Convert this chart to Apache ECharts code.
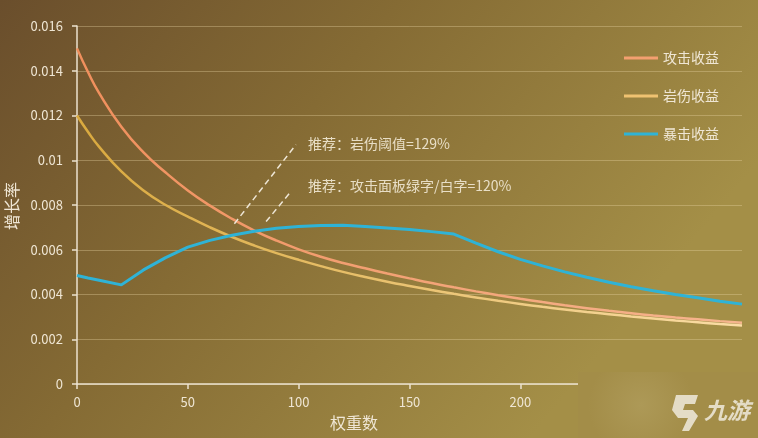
<!DOCTYPE html>
<html>
<head>
<meta charset="utf-8">
<script src="https://cdn.jsdelivr.net/npm/echarts@6/dist/echarts.min.js"></script>
<style>
html,body{margin:0;padding:0;width:758px;height:438px;overflow:hidden;}
#c{width:758px;height:438px;}
</style>
</head>
<body>
<div id="c"></div>
<script>
// ---- data ----
const seriesNames = ['攻击收益', '岩伤收益', '暴击收益'];
const weights = [0,5,10,20,30,40,50,60,70,80,90,100,110,120,130,140,150,160,170,180,190,200,210,220,230,240,250,260,270,280,290,300];
const attackGain = [0.01500,0.01393,0.01300,0.01150,0.01035,0.00945,0.00865,0.00797,0.00738,0.00686,0.00641,0.00602,0.00569,0.00541,0.00517,0.00494,0.00472,0.00451,0.00432,0.00414,0.00397,0.00381,0.00366,0.00352,0.00339,0.00327,0.00316,0.00306,0.00297,0.00289,0.00281,0.00274];
const rockGain   = [0.01200,0.01126,0.01060,0.00950,0.00865,0.00800,0.00748,0.00700,0.00657,0.00619,0.00585,0.00555,0.00527,0.00501,0.00478,0.00457,0.00438,0.00420,0.00403,0.00387,0.00372,0.00358,0.00345,0.00333,0.00322,0.00312,0.00302,0.00293,0.00284,0.00276,0.00268,0.00261];
const critGain   = [0.00485,0.00474,0.00464,0.00443,0.00510,0.00565,0.00612,0.00642,0.00665,0.00683,0.00696,0.00704,0.00708,0.00709,0.00704,0.00697,0.00690,0.00681,0.00670,0.00630,0.00591,0.00557,0.00528,0.00501,0.00477,0.00455,0.00435,0.00417,0.00400,0.00385,0.00370,0.00357];
const xTickLabels = ['0','50','100','150','200','250','300'];
const yTickLabels = ['0','0.002','0.004','0.006','0.008','0.01','0.012','0.014','0.016'];
const noteTexts = ['推荐：岩伤阈值=129%', '推荐：攻击面板绿字/白字=120%'];
// annotation leader lines, in data units [weight, rate]
const note1Line = [[71, 0.00716], [98.8, 0.0107]];
const note2Line = [[85.3, 0.00726], [96.5, 0.0086]];
const xName = '权重数';
const yName = '增长率';

const pairs = (vals) => weights.map((w, i) => [w, vals[i]]);
const hGrad = (a, b) => ({type: 'linear', x: 0, y: 0, x2: 1, y2: 0, colorStops: [{offset: 0, color: a}, {offset: 1, color: b}]});

const chart = echarts.init(document.getElementById('c'));
const txtColor = '#efe6d4';
const font = '"Noto Sans CJK SC", "Noto Sans", sans-serif';

chart.setOption({
  backgroundColor: {
    type: 'linear', x: 0, y: 0, x2: 0.7, y2: 1,
    colorStops: [
      {offset: 0, color: '#6a4e2c'},
      {offset: 0.45, color: '#856b34'},
      {offset: 1, color: '#a48f47'}
    ]
  },
  textStyle: {fontFamily: font},
  animation: false,
  grid: {left: 77, right: 16, top: 26, bottom: 54},
  legend: {
    data: seriesNames,
    orient: 'vertical',
    left: 619, top: 46,
    icon: 'rect',
    itemWidth: 34, itemHeight: 3, itemGap: 24,
    textStyle: {color: txtColor, fontSize: 14, fontFamily: font}
  },
  xAxis: {
    type: 'value', min: 0, max: 300, interval: 50,
    axisLine: {show: true, lineStyle: {color: '#ece2cf', width: 1.5}},
    axisTick: {show: true, length: 5, lineStyle: {color: '#ece2cf', width: 1.5}},
    axisLabel: {color: txtColor, fontSize: 13, margin: 12,
      formatter: (v) => xTickLabels[Math.round(v / 50)]},
    splitLine: {show: false}
  },
  yAxis: {
    type: 'value', min: 0, max: 0.016, interval: 0.002,
    axisLine: {show: true, lineStyle: {color: '#ece2cf', width: 1.5}},
    axisTick: {show: true, length: 5, lineStyle: {color: '#ece2cf', width: 1.5}},
    axisLabel: {color: txtColor, fontSize: 13, margin: 14,
      formatter: (v) => yTickLabels[Math.round(v / 0.002)]},
    splitLine: {show: true, lineStyle: {color: 'rgba(235,215,165,0.35)', width: 1}}
  },
  series: [
    {
      name: seriesNames[0], type: 'line', data: pairs(attackGain),
      smooth: true, symbol: 'none',
      lineStyle: {color: hGrad('#f08f5c', '#f6b68f'), width: 2.5}, itemStyle: {color: '#f3a070'}
    },
    {
      name: seriesNames[1], type: 'line', data: pairs(rockGain),
      smooth: true, symbol: 'none',
      lineStyle: {color: hGrad('#d9a93e', '#fbdda6'), width: 2.5}, itemStyle: {color: '#efc271'}
    },
    {
      name: seriesNames[2], type: 'line', data: pairs(critGain),
      smooth: false, symbol: 'none',
      lineStyle: {color: '#2fb3d6', width: 3}, itemStyle: {color: '#2fb3d6'},
      markLine: {
        silent: true, symbol: ['none', 'none'], label: {show: false},
        lineStyle: {color: '#eee6d6', width: 1.5, type: [6, 4]},
        data: [
          [{coord: note1Line[0]}, {coord: note1Line[1]}],
          [{coord: note2Line[0]}, {coord: note2Line[1]}]
        ]
      }
    }
  ],
  graphic: [
    {type: 'text', left: 308, top: 137, style: {text: noteTexts[0], fill: '#e8dec6', font: '14px ' + font}},
    {type: 'text', left: 308, top: 179, style: {text: noteTexts[1], fill: '#e8dec6', font: '14px ' + font}},
    {type: 'text', left: 330, top: 415, style: {text: xName, fill: txtColor, font: '16px ' + font}},
    {type: 'text', x: 12, y: 206, rotation: Math.PI / 2,
      style: {text: yName, fill: txtColor, font: '16px ' + font, textAlign: 'center', textVerticalAlign: 'middle'}},
    // watermark patch covering the right end of the x axis
    {type: 'rect', shape: {x: 578, y: 372, width: 180, height: 66}, z: 100,
      style: {fill: {type: 'radial', x: 0.35, y: 0.5, r: 0.8, colorStops: [
        {offset: 0, color: '#ad9957'}, {offset: 1, color: '#a38d48'}]}}},
    {type: 'polygon', z: 101,
      shape: {points: [[676,395],[698,395],[695,404],[685,404],[683,410],[693,410],[698,416],[689,431],[682,431],[688,418],[678,418],[672,410]]},
      style: {fill: 'rgba(235,228,212,0.9)'}},
    {type: 'text', z: 101, left: 704, top: 399, style: {text: '九游', fill: 'rgba(235,228,212,0.9)', font: 'italic bold 23px ' + font}}
  ]
});
</script>
</body>
</html>
